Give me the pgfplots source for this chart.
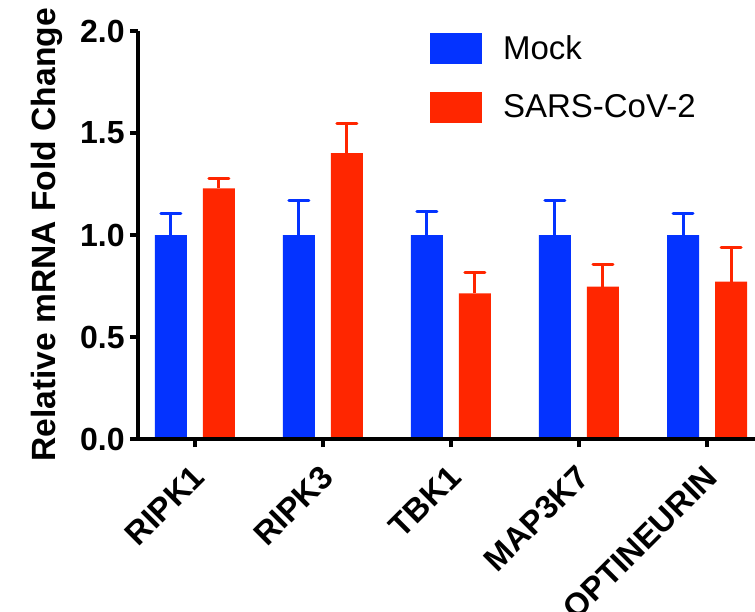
\documentclass[border=0pt]{standalone}
\usepackage{fontspec}
\setmainfont{Liberation Sans}
\usepackage{pgfplots}
\pgfplotsset{compat=1.18}
\definecolor{mockblue}{HTML}{0433FF}
\definecolor{sarsred}{HTML}{FF2600}
\begin{document}
\begin{tikzpicture}
\begin{axis}[
  at={(0,0)}, anchor=south west,
  width=308.5pt, height=204pt, scale only axis,
  xmin=-0.445, xmax=4.375, ymin=0, ymax=2,
  axis x line=bottom, axis y line=left,
  axis line style={-, line width=2pt, black},
  tick align=outside,
  major tick length=4pt,
  tick style={line width=2pt, black},
  xtick={0,1,2,3,4},
  xticklabels={RIPK1,RIPK3,TBK1,MAP3K7,OPTINEURIN},
  ytick={0,0.5,1,1.5,2},
  minor tick num=0,
  /pgf/number format/assume math mode=true,
  yticklabel style={/pgf/number format/.cd, fixed, fixed zerofill, precision=1, /tikz/.cd,
     font=\bfseries\fontsize{16}{19}\selectfont, inner sep=0pt, anchor=east, xshift=-2.5pt},
  xticklabel shift=8pt,
  xticklabel style={xshift=-2pt, rotate=45, anchor=north east, inner sep=0pt,
     font=\bfseries\fontsize{16.3}{19}\selectfont},
  ylabel={Relative mRNA Fold Change},
  ylabel style={at={(axis description cs:-0.148,0.5)}, anchor=center,
     font=\bfseries\fontsize{16.8}{20}\selectfont},
  legend style={at={(axis description cs:0.473,1)}, yshift=-1pt, anchor=north west,
     draw=none, fill=none, inner sep=0pt, column sep=10.5pt, row sep=14pt,
     nodes={inner sep=0pt, font=\fontsize{16.5}{20}\selectfont}},
  legend cell align=left,
  axis on top,
  clip=false,
]
\addplot[ybar, bar width=16pt, bar shift=0pt, fill=mockblue, draw=none, forget plot,
  error bars/.cd, y dir=plus, y explicit, error mark=|,
  error bar style={draw=mockblue, line width=1.5pt},
  error mark options={draw=mockblue, line width=1.5pt, mark size=5pt, line cap=round}]
  table[x=x, y=y, y error=e] {
x y e
-0.1875 1.0 0.107
0.8125 1.0 0.167
1.8125 1.0 0.117
2.8125 1.0 0.171
3.8125 1.0 0.103
};
\addplot[ybar, bar width=16pt, bar shift=0pt, fill=sarsred, draw=none, forget plot,
  error bars/.cd, y dir=plus, y explicit, error mark=|,
  error bar style={draw=sarsred, line width=1.5pt},
  error mark options={draw=sarsred, line width=1.5pt, mark size=5pt, line cap=round}]
  table[x=x, y=y, y error=e] {
x y e
0.1875 1.229 0.049
1.1875 1.401 0.147
2.1875 0.714 0.102
3.1875 0.747 0.108
4.1875 0.771 0.170
};
\addlegendimage{legend image code/.code={\fill[mockblue] (0pt,-7.5pt) rectangle (25.5pt,7.5pt);}}
\addlegendentry{Mock}
\addlegendimage{legend image code/.code={\fill[sarsred] (0pt,-7.5pt) rectangle (25.5pt,7.5pt);}}
\addlegendentry{SARS-CoV-2}
\end{axis}
\pgfresetboundingbox
\path[use as bounding box] (-69pt,-86pt) rectangle (308.5pt,219.5pt);
\end{tikzpicture}
\end{document}
